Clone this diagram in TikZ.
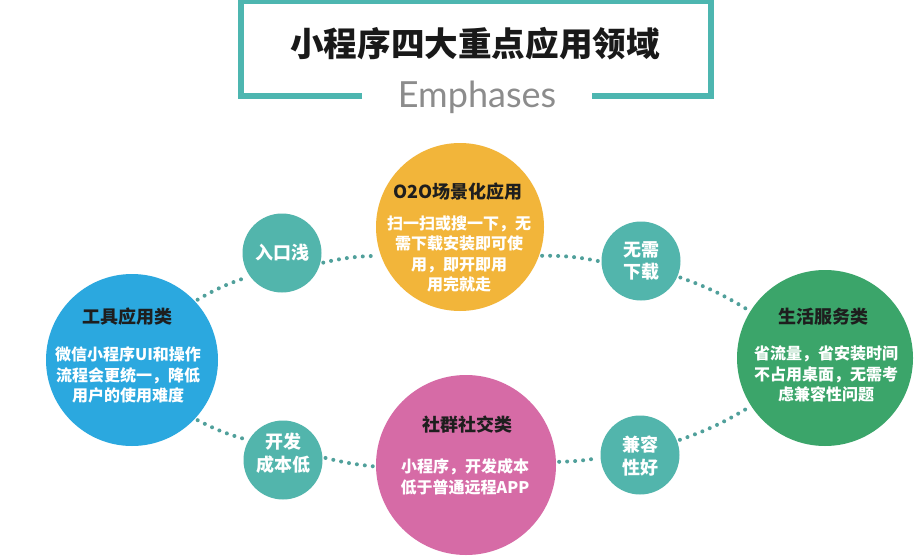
\documentclass[tikz,border=0pt]{standalone}
\usepackage{fontspec}
\newfontfamily\cjk{Noto Sans CJK SC}
\newfontfamily\lato{Lato}
\definecolor{boxteal}{RGB}{77,182,176}
\definecolor{smteal}{RGB}{82,181,172}
\definecolor{corange}{RGB}{242,181,58}
\definecolor{cblue}{RGB}{43,168,223}
\definecolor{cgreen}{RGB}{59,165,106}
\definecolor{cpink}{RGB}{214,107,166}
\definecolor{dotc}{RGB}{80,160,155}
\definecolor{ttl}{RGB}{30,30,30}
\begin{document}
\begin{tikzpicture}[x=1pt,y=-1pt,
  bigc/.style={circle,inner sep=0pt,minimum size=172pt},
  smc/.style={circle,inner sep=0pt,minimum size=79pt,fill=smteal},
  ctitle/.style={font=\cjk\bfseries\fontsize{18}{22}\selectfont,text=ttl},
  cbody/.style={font=\cjk\bfseries\fontsize{16}{20.5}\selectfont,text=white,align=center},
  smtext/.style={font=\cjk\bfseries\fontsize{18}{22.5}\selectfont,text=white,align=center},
  dots/.style={draw=dotc,line width=4pt,line cap=round,dash pattern=on 0pt off 8pt,shorten <=3pt,shorten >=3pt}]
\useasboundingbox (0,0) rectangle (920,559);
\fill[white] (0,0) rectangle (920,559);
% title frame
\coordinate (bl) at (241,96);
\coordinate (tl) at (241,1);
\coordinate (tr) at (711,1);
\coordinate (br) at (711,96);
\coordinate (gl) at (362,96);
\coordinate (gr) at (592,96);
\draw[boxteal,line width=6pt] (gl) -- (bl) -- (tl) -- (tr) -- (br) -- (gr);
\node[font=\cjk\bfseries\fontsize{33.6}{40}\selectfont,text=black!90] (title) at (475,44) {小程序四大重点应用领域};
\node[font=\lato\fontsize{36}{40}\selectfont,text=black!45,anchor=base] (emph) at (477,108) {Emphases};
% big circles
\node[bigc,fill=corange,minimum size=168pt] (o2o) at (460,227) {};
\node[bigc,fill=cblue] (tool) at (132,360) {};
\node[bigc,fill=cgreen,minimum size=176pt] (life) at (825,358) {};
\node[bigc,fill=cpink,minimum size=180pt] (social) at (466,465) {};
% small circles
\node[smc] (rk) at (282,253) {};
\node[smc] (xz) at (641,261) {};
\node[smc] (kf) at (283,460) {};
\node[smc] (jr) at (640,455) {};
% texts
\node[ctitle] (o2ot) at (458,192) {O2O场景化应用};
\node[cbody] (o2ob) at (459,254) {扫一扫或搜一下，无\\需下载安装即可使\\用，即开即用\\用完就走};
\node[ctitle] (toolt) at (127,317) {工具应用类};
\node[cbody] (toolb) at (128,375) {微信小程序UI和操作\\流程会更统一，降低\\用户的使用难度};
\node[ctitle] (lifet) at (823,317) {生活服务类};
\node[cbody] (lifeb) at (826,374) {省流量，省安装时间\\不占用桌面，无需考\\虑兼容性问题};
\node[ctitle] (socialt) at (467,425) {社群社交类};
\node[cbody] (socialb) at (465,477) {小程序，开发成本\\低于普通远程APP};
\node[smtext] (rkt) at (282,253) {入口浅};
\node[smtext] (xzt) at (641,261) {无需\\下载};
\node[smtext] (kft) at (283,453) {开发\\成本低};
\node[smtext] (jrt) at (640,456) {兼容\\性好};
% dotted connectors
\draw[dots] (tool.43) to[bend left=6] (rk.216);
\draw[dots] (rk.-15) to[bend left=6] (o2o.200);
\draw[dots] (o2o.-20) to[bend left=6] (xz.181);
\draw[dots] (xz.-23) to[bend left=6] (life.148);
\draw[dots] (tool.-43) to[bend right=6] (kf.150);
\draw[dots] (kf.4) to[bend right=4] (social.181);
\draw[dots] (social.2) to[bend right=4] (jr.184);
\draw[dots] (jr.21) to[bend right=6] (life.213);
\end{tikzpicture}
\end{document}
